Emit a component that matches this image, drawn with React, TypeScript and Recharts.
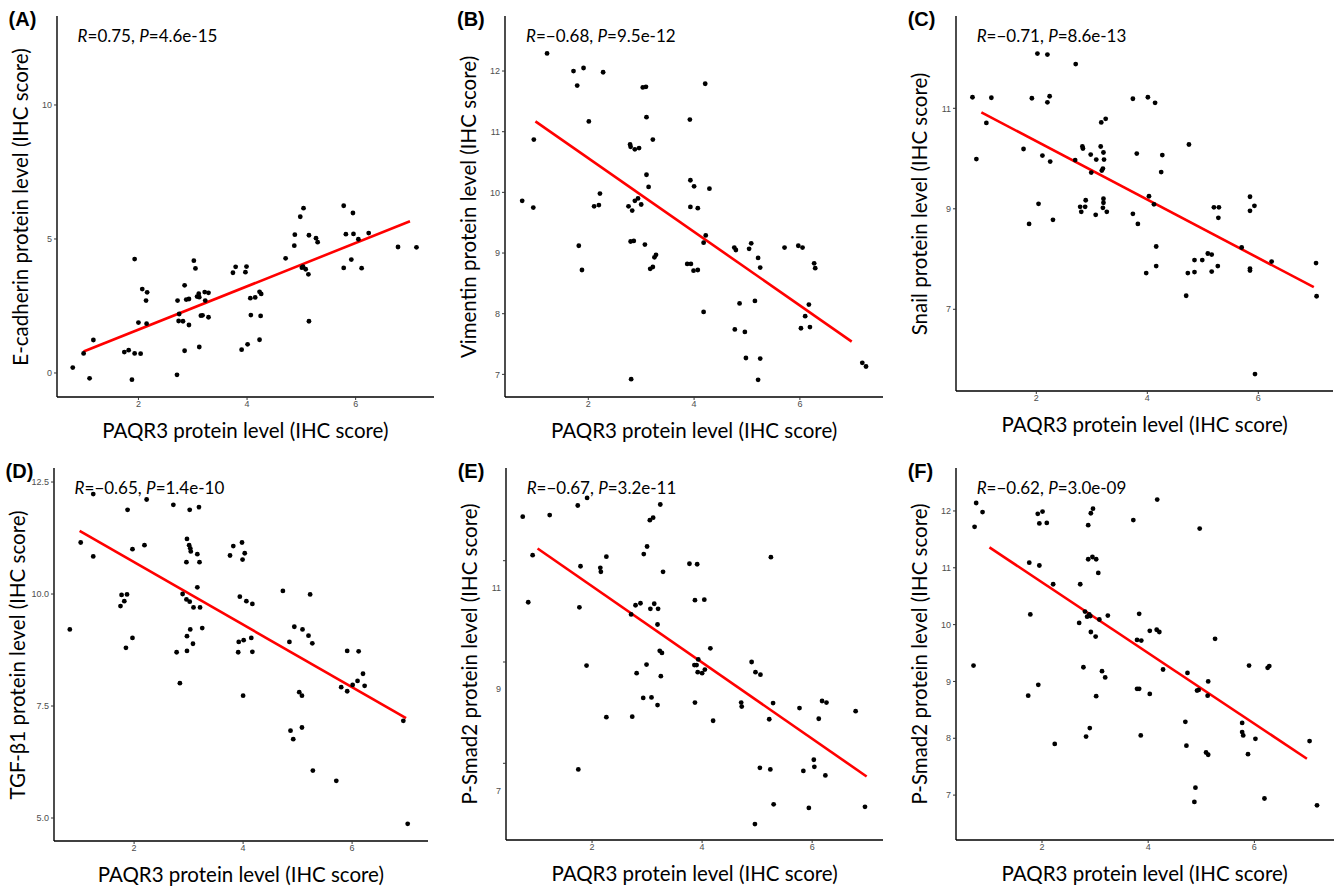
import React from 'react';
import { ScatterChart, Scatter, XAxis, YAxis, ReferenceLine } from 'recharts';

// (A) E-cadherin
const aX = [0.79, 0.99, 1.17, 1.1, 1.93, 2.07, 2.16, 2.14, 2.0, 2.15, 1.74, 1.82, 1.93, 2.04, 1.88, 2.72, 2.75, 2.74, 2.82, 2.93, 2.85, 2.88, 2.93, 3.02, 3.05, 3.08, 3.11, 3.12, 3.22, 3.29, 3.23, 3.15, 3.18, 3.29, 2.85, 3.12, 2.71, 3.74, 3.79, 3.9, 3.97, 3.99, 4.06, 4.15, 4.23, 4.26, 4.07, 4.25, 4.01, 4.23, 4.71, 4.87, 4.88, 4.98, 5.04, 5.14, 5.27, 5.3, 5.01, 5.03, 5.08, 5.13, 5.14, 5.78, 5.95, 5.82, 5.96, 6.05, 6.24, 5.78, 5.92, 6.11, 6.78, 7.12];
const aY = [0.2, 0.73, 1.23, -0.2, 4.25, 3.13, 3.01, 2.7, 1.88, 1.84, 0.78, 0.85, 0.73, 0.72, -0.25, 2.7, 2.2, 1.94, 1.93, 1.79, 3.27, 2.74, 2.76, 4.19, 3.9, 2.85, 2.96, 2.83, 3.02, 2.99, 2.7, 2.14, 2.15, 2.08, 0.83, 0.97, -0.07, 3.74, 3.96, 0.87, 3.76, 3.97, 2.79, 2.82, 3.03, 2.95, 2.16, 2.13, 1.07, 1.24, 4.28, 4.75, 5.16, 5.83, 6.15, 5.14, 5.03, 4.88, 3.93, 3.97, 3.87, 3.68, 1.93, 6.24, 5.97, 5.18, 5.19, 4.99, 5.22, 3.92, 4.23, 3.91, 4.7, 4.69];
const aFit = [0.99, 0.8, 7.0, 5.66];

// (B) Vimentin
const bX = [1.22, 1.72, 1.91, 2.28, 1.79, 2.01, 0.97, 0.75, 0.96, 1.82, 1.88, 2.22, 2.11, 2.2, 3.03, 3.09, 3.1, 2.79, 2.8, 2.88, 2.96, 3.22, 3.1, 3.14, 2.76, 2.83, 2.88, 2.94, 3.0, 2.8, 2.86, 3.07, 3.28, 3.25, 3.22, 3.17, 2.81, 3.87, 3.92, 3.93, 3.93, 4.21, 4.0, 4.29, 4.07, 4.22, 4.18, 3.94, 3.99, 4.07, 4.18, 4.76, 4.79, 5.04, 5.08, 5.21, 5.25, 5.71, 5.97, 6.05, 6.27, 6.29, 4.86, 5.15, 4.77, 4.96, 4.98, 5.25, 5.21, 6.17, 6.1, 6.02, 6.19, 7.18, 7.25];
const bY = [12.29, 12.0, 12.05, 11.98, 11.76, 11.17, 10.87, 9.86, 9.75, 9.12, 8.72, 9.98, 9.77, 9.79, 11.73, 11.74, 11.24, 10.79, 10.75, 10.71, 10.73, 10.87, 10.29, 10.09, 9.77, 9.7, 9.86, 9.9, 9.8, 9.19, 9.2, 9.14, 8.97, 8.93, 8.77, 8.74, 6.92, 8.82, 11.2, 10.2, 9.76, 11.79, 10.1, 10.06, 9.74, 9.29, 9.17, 8.82, 8.71, 8.72, 8.03, 9.09, 9.05, 9.07, 9.16, 8.92, 8.76, 9.09, 9.12, 9.09, 8.83, 8.75, 8.17, 8.21, 7.74, 7.7, 7.27, 7.26, 6.91, 8.15, 7.96, 7.76, 7.78, 7.19, 7.13];
const bFit = [1.0, 11.17, 6.98, 7.54];

// (C) Snail
const cX = [0.85, 1.19, 1.1, 0.92, 2.02, 2.2, 2.71, 1.92, 2.24, 2.2, 1.77, 2.11, 2.25, 2.04, 1.87, 2.3, 3.17, 3.25, 2.83, 2.84, 2.98, 3.08, 3.16, 3.21, 3.22, 2.7, 2.99, 3.18, 3.2, 2.79, 2.88, 2.89, 2.81, 3.07, 3.21, 3.21, 3.2, 3.27, 3.74, 3.81, 3.74, 3.83, 4.01, 4.14, 4.27, 4.25, 4.03, 4.12, 4.16, 4.16, 3.98, 4.75, 5.2, 5.29, 5.28, 5.09, 5.16, 4.99, 4.85, 4.85, 4.73, 5.16, 5.27, 4.7, 5.7, 5.85, 5.93, 5.85, 5.85, 5.85, 6.24, 7.04, 7.05, 5.94];
const cY = [11.22, 11.21, 10.71, 9.99, 12.09, 12.07, 11.88, 11.2, 11.24, 11.12, 10.19, 10.06, 9.94, 9.1, 8.7, 8.78, 10.72, 10.79, 10.24, 10.2, 10.08, 9.98, 10.24, 10.12, 9.98, 9.97, 9.72, 9.76, 9.8, 9.04, 9.04, 9.17, 8.94, 8.88, 9.2, 9.12, 9.02, 8.94, 11.19, 10.1, 8.9, 8.7, 11.22, 11.11, 10.07, 9.73, 9.25, 9.09, 8.25, 7.86, 7.72, 10.28, 9.03, 9.03, 8.82, 8.11, 8.09, 7.98, 7.98, 7.74, 7.72, 7.75, 7.86, 7.27, 8.23, 9.24, 9.06, 8.96, 7.81, 7.77, 7.95, 7.92, 7.26, 5.71];
const cFit = [1.01, 10.92, 7.0, 7.44];

// (D) TGF-b1
const dX = [1.25, 2.23, 1.88, 2.72, 3.02, 3.19, 1.02, 1.25, 1.97, 2.19, 2.97, 3.01, 3.03, 3.04, 3.16, 2.96, 3.2, 1.77, 1.87, 1.82, 1.75, 2.89, 2.96, 3.02, 3.16, 3.09, 3.21, 0.82, 1.97, 1.85, 3.03, 2.97, 3.25, 3.08, 2.78, 2.97, 2.84, 3.82, 3.98, 3.76, 3.99, 3.94, 3.92, 3.91, 4.0, 4.03, 4.06, 4.17, 4.01, 4.15, 4.17, 4.73, 5.23, 4.85, 4.94, 5.09, 5.2, 5.27, 5.03, 5.08, 4.87, 4.92, 5.08, 5.28, 5.71, 5.91, 6.12, 5.8, 5.91, 6.01, 6.1, 6.2, 6.23, 6.94, 7.02];
const dY = [12.23, 12.11, 11.88, 11.99, 11.88, 11.94, 11.15, 10.84, 11.0, 11.09, 11.23, 11.09, 11.02, 10.95, 10.89, 10.71, 10.71, 9.98, 9.99, 9.84, 9.73, 10.0, 9.88, 9.83, 10.15, 9.7, 9.7, 9.21, 9.02, 8.8, 9.21, 9.06, 9.24, 8.89, 8.7, 8.73, 8.01, 11.07, 11.15, 10.86, 10.77, 9.94, 8.93, 8.7, 7.73, 10.91, 9.84, 9.78, 8.97, 9.02, 8.71, 10.07, 9.99, 8.93, 9.27, 9.21, 9.07, 8.9, 7.81, 7.73, 6.95, 6.76, 7.02, 6.06, 5.83, 8.73, 8.72, 7.92, 7.83, 7.97, 8.06, 8.22, 7.95, 7.17, 4.87];
const dFit = [1.0, 11.41, 6.99, 7.23];

// (E) P-Smad2
const eX = [0.74, 1.23, 1.74, 1.91, 0.92, 0.84, 1.79, 1.77, 1.9, 2.26, 2.15, 2.16, 2.26, 1.75, 3.24, 3.05, 3.11, 3.0, 2.94, 3.29, 2.79, 2.88, 3.13, 3.06, 3.2, 2.71, 3.19, 3.23, 3.27, 2.99, 2.81, 3.25, 2.93, 3.08, 3.19, 2.73, 3.77, 3.91, 3.87, 4.04, 4.15, 3.93, 3.86, 3.9, 3.92, 4.0, 4.05, 3.87, 4.2, 5.25, 4.9, 4.97, 5.06, 4.71, 4.72, 5.29, 5.22, 5.77, 6.18, 6.26, 6.12, 6.79, 5.05, 5.24, 5.84, 6.03, 6.04, 6.24, 5.3, 5.94, 4.96, 6.96];
const eY = [11.87, 11.9, 12.09, 12.24, 11.11, 10.18, 10.89, 10.08, 8.93, 11.08, 10.86, 10.78, 7.91, 6.88, 12.11, 11.8, 11.85, 11.28, 11.13, 10.78, 10.12, 10.16, 10.15, 10.05, 10.05, 9.94, 9.74, 9.22, 9.18, 8.95, 8.78, 8.72, 8.29, 8.3, 8.15, 7.92, 10.94, 10.93, 10.22, 10.23, 9.27, 9.05, 8.94, 8.94, 8.8, 8.78, 8.85, 8.2, 7.84, 11.07, 9.0, 8.8, 8.75, 8.2, 8.12, 8.19, 7.87, 8.09, 8.23, 8.2, 7.88, 8.03, 6.91, 6.88, 6.85, 7.07, 6.93, 6.76, 6.19, 6.12, 5.8, 6.14];
const eFit = [1.01, 11.24, 6.99, 6.74];

// (F) P-Smad2
const fX = [0.76, 0.88, 0.73, 0.71, 1.92, 2.01, 1.95, 2.09, 1.76, 1.95, 2.21, 1.78, 1.74, 1.93, 2.24, 2.92, 2.96, 2.87, 2.87, 2.95, 3.02, 3.06, 2.72, 2.81, 2.85, 2.91, 2.89, 3.08, 3.24, 2.7, 2.92, 3.01, 2.78, 3.13, 3.19, 3.02, 2.9, 2.83, 3.72, 3.83, 3.79, 3.79, 3.83, 3.86, 4.17, 4.97, 4.03, 4.16, 4.21, 3.87, 5.26, 4.28, 4.03, 4.74, 5.13, 4.92, 4.95, 5.12, 4.7, 4.72, 5.09, 5.13, 4.89, 4.87, 5.9, 6.25, 6.28, 5.77, 5.77, 5.79, 6.02, 5.88, 6.19, 7.04, 7.18];
const fY = [12.14, 11.98, 11.72, 9.28, 11.95, 11.99, 11.78, 11.79, 11.09, 11.04, 10.71, 10.18, 8.75, 8.94, 7.9, 11.96, 12.04, 11.75, 11.15, 11.19, 11.15, 10.91, 10.71, 10.23, 10.14, 10.15, 10.18, 10.09, 10.16, 10.03, 9.87, 9.79, 9.25, 9.18, 9.07, 8.74, 8.18, 8.03, 11.84, 10.19, 9.73, 8.87, 8.87, 8.05, 12.2, 11.69, 9.89, 9.91, 9.87, 9.72, 9.75, 9.21, 8.78, 9.15, 9.0, 8.84, 8.85, 8.75, 8.29, 7.87, 7.75, 7.71, 7.13, 6.88, 9.28, 9.24, 9.27, 8.27, 8.11, 8.05, 7.99, 7.72, 6.94, 7.95, 6.82];
const fFit = [1.01, 11.36, 6.99, 7.64];

const toPoints = (xs: number[], ys: number[]) => xs.map((x, i) => ({ x, y: ys[i] }));

const Y_AXIS_W = 40;
const X_AXIS_H = 24;
const TITLE_FONT = 'Lato, "Open Sans", sans-serif';
const TICK_FONT = '"Liberation Sans", Arial, sans-serif';

const panels = [
  { tag: '(A)', yTitle: 'E-cadherin protein level (IHC score)', stat: ['0.75', '4.6e-15'], xs: aX, ys: aY, fit: aFit,
    left: 56.6, top: 16, w: 377.4, h: 381, xDom: [0.5, 7.45], yDom: [-0.896, 13.32], yTicks: [0, 5, 10], dec: 0, shift: 0 },
  { tag: '(B)', yTitle: 'Vimentin protein level (IHC score)', stat: ['\u22120.68', '9.5e-12'], xs: bX, ys: bY, fit: bFit,
    left: 505, top: 16, w: 378.2, h: 381, xDom: [0.425, 7.575], yDom: [6.627, 12.907], yTicks: [7, 8, 9, 10, 11, 12], dec: 0, shift: 0 },
  { tag: '(C)', yTitle: 'Snail protein level (IHC score)', stat: ['\u22120.71', '8.6e-13'], xs: cX, ys: cY, fit: cFit,
    left: 955.7, top: 16, w: 377.8, h: 375, xDom: [0.553, 7.36], yDom: [5.374, 12.837], yTicks: [7, 9, 11], dec: 0, shift: 0 },
  { tag: '(D)', yTitle: 'TGF-\u03b21 protein level (IHC score)', stat: ['\u22120.65', '1.4e-10'], xs: dX, ys: dY, fit: dFit,
    left: 53.6, top: 468, w: 374.4, h: 373, xDom: [0.53, 7.4], yDom: [4.487, 12.813], yTicks: [5, 7.5, 10, 12.5], dec: 1, shift: 0 },
  { tag: '(E)', yTitle: 'P-Smad2 protein level (IHC score)', stat: ['\u22120.67', '3.2e-11'], xs: eX, ys: eY, fit: eFit,
    left: 505.7, top: 468, w: 377.7, h: 372, xDom: [0.436, 7.3], yDom: [5.486, 12.83], yTicks: [7, 9, 11], dec: 0, shift: 27 },
  { tag: '(F)', yTitle: 'P-Smad2 protein level (IHC score)', stat: ['\u22120.62', '3.0e-09'], xs: fX, ys: fY, fit: fFit,
    left: 955.7, top: 468, w: 378, h: 372, xDom: [0.38, 7.5], yDom: [6.21, 12.756], yTicks: [7, 8, 9, 10, 11, 12], dec: 0, shift: 0 },
];

const Dot = (props: any) => <circle cx={props.cx} cy={props.cy} r={2.4} fill="#000" />;

// y tick label; panel E's labels sit a little below their tick marks in the original
const YTick = ({ x, y, payload, shift, dec }: any) => (
  <text x={x} y={y + shift} dy={3.2} textAnchor="end" fill="#4d4d4d" fontSize={9} fontFamily={TICK_FONT}>
    {Number(payload.value).toFixed(dec)}
  </text>
);

const Panel = ({ p }: { p: (typeof panels)[number] }) => {
  const data = toPoints(p.xs, p.ys);
  const [x1, y1, x2, y2] = p.fit;
  return (
    <>
      <div style={{ position: 'absolute', left: p.left - Y_AXIS_W, top: p.top }}>
        <ScatterChart
          width={p.w + Y_AXIS_W}
          height={p.h + X_AXIS_H}
          margin={{ top: 0, right: 0, bottom: 0, left: 0 }}
        >
          <XAxis
            type="number"
            dataKey="x"
            domain={p.xDom}
            allowDataOverflow
            ticks={[2, 4, 6]}
            height={X_AXIS_H}
            tickSize={3}
            tickMargin={1}
            axisLine={{ stroke: '#000', strokeWidth: 1.4 }}
            tickLine={{ stroke: '#333' }}
            tick={{ fill: '#4d4d4d', fontSize: 9, fontFamily: TICK_FONT }}
          />
          <YAxis
            type="number"
            dataKey="y"
            domain={p.yDom}
            allowDataOverflow
            ticks={p.yTicks}
            width={Y_AXIS_W}
            tickSize={3}
            tickMargin={2}
            axisLine={{ stroke: '#000', strokeWidth: 1.4 }}
            tickLine={{ stroke: '#333' }}
            tick={(t: any) => <YTick {...t} shift={p.shift} dec={p.dec} />}
          />
          <Scatter data={data} shape={Dot} isAnimationActive={false} />
          <ReferenceLine
            segment={[{ x: x1, y: y1 }, { x: x2, y: y2 }]}
            stroke="#ff0000"
            strokeWidth={2.6}
            ifOverflow="visible"
          />
        </ScatterChart>
      </div>
      <div style={{ position: 'absolute', left: p.left - 48, top: p.top - 8, fontFamily: TICK_FONT, fontWeight: 'bold', fontSize: 20 }}>
        {p.tag}
      </div>
      <div style={{ position: 'absolute', left: p.left + 21, top: p.top + 19, transform: 'translateY(-50%)', fontFamily: TITLE_FONT, fontSize: 17, whiteSpace: 'nowrap', color: '#000' }}>
        <i>R</i>={p.stat[0]}, <i>P</i>={p.stat[1]}
      </div>
      <div style={{ position: 'absolute', left: p.left - 37, top: p.top + p.h / 2, transform: 'translate(-50%, -50%) rotate(-90deg)', fontFamily: TITLE_FONT, fontSize: 20.5, whiteSpace: 'nowrap', color: '#000' }}>
        {p.yTitle}
      </div>
      <div style={{ position: 'absolute', left: p.left + p.w / 2, top: p.top + p.h + 33, transform: 'translate(-50%, -50%)', fontFamily: TITLE_FONT, fontSize: 20.5, whiteSpace: 'nowrap', color: '#000' }}>
        PAQR3 protein level (IHC score)
      </div>
    </>
  );
};

export default function App() {
  return (
    <div style={{ position: 'absolute', left: 0, top: 0, width: 1336, height: 889, background: '#fff', overflow: 'hidden' }}>
      {panels.map((p) => (
        <Panel key={p.tag} p={p} />
      ))}
    </div>
  );
}
